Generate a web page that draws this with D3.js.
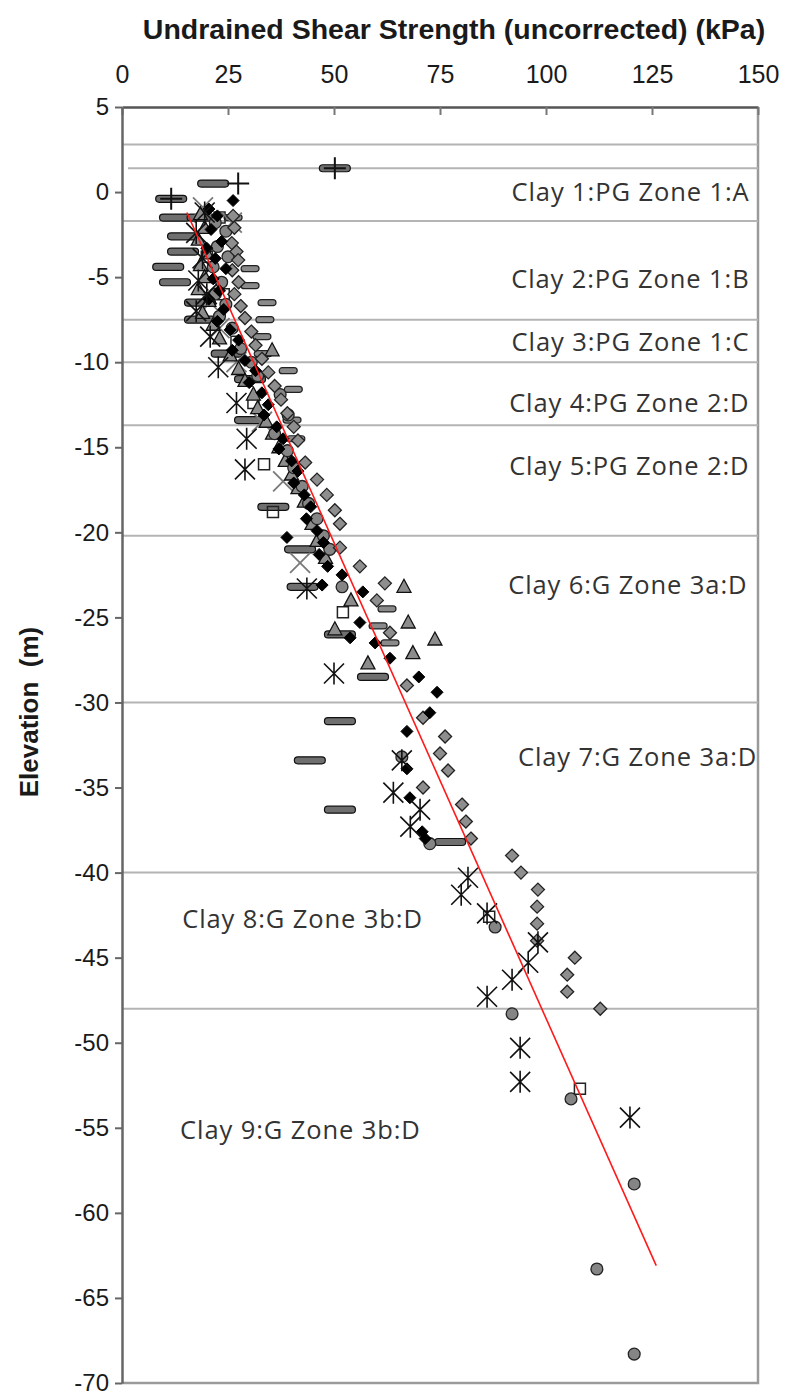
<!DOCTYPE html>
<html>
<head>
<meta charset="utf-8">
<script src="https://cdn.jsdelivr.net/npm/d3@7"></script>
<style>
  body { margin: 0; background: #fff; }
  text { font-family: "Liberation Sans", Arial, sans-serif; fill: #1a1a1a; }
  .zone { font-family: "Open Sans", sans-serif; fill: #333; }
</style>
</head>
<body>
<svg id="chart" width="787" height="1395"></svg>
<script>
// ---- axes ----
const xTicks = [0, 25, 50, 75, 100, 125, 150];
const yTicks = [5, 0, -5, -10, -15, -20, -25, -30, -35, -40, -45, -50, -55, -60, -65, -70];

// ---- stratigraphy: layer boundaries (m) and labels ----
const zoneBoundaries = [2.8, 1.4, -1.7, -7.5, -10, -13.7, -20.2, -30, -40, -48];
const zoneNames = [
  "Clay 1:PG Zone 1:A", "Clay 2:PG Zone 1:B", "Clay 3:PG Zone 1:C",
  "Clay 4:PG Zone 2:D", "Clay 5:PG Zone 2:D", "Clay 6:G Zone 3a:D",
  "Clay 7:G Zone 3a:D", "Clay 8:G Zone 3b:D", "Clay 9:G Zone 3b:D"
];
const zoneLabelElev = [0, -5.1, -8.8, -12.4, -16.1, -23.1, -33.2, -42.7, -55.1];
const zoneLabelKpa = [148, 148, 148, 148, 148, 147.5, 149.8, 14.2, 13.7];
const zoneLabelAlign = ["end", "end", "end", "end", "end", "end", "end", "start", "start"];

// ---- design line (kPa, elevation) ----
const trendKpa = [15.3, 126];
const trendElev = [-1.2, -63.1];

// ---- test results, [Su kPa, elevation m] ----
const longDash = [
  [11.6, -0.4], [21.5, 0.5], [50.2, 1.4], [12.5, -1.5], [19, -1.5], [14.4, -2.6], [14.4, -3.5],
  [10.9, -4.4], [12.5, -5.3], [18.4, -6.5], [18.4, -7.5], [24.7, -9.5], [30.2, -11],
  [30.2, -13.4], [35.7, -18.5], [42, -21], [42.6, -23.2], [51.4, -26.0], [59.2, -28.5],
  [51.4, -31.1], [44.3, -33.4], [51.4, -36.3], [77.4, -38.2]
];
const shortDash = [
  [26.2, -1.5], [30.2, -4.5], [30.2, -5.5], [34.2, -6.5], [33.7, -7.5], [33, -8.5], [33.3, -9.5],
  [39.2, -10.5], [40.4, -11.6], [40.1, -13.4], [41, -14.5], [62.5, -24.5], [60.4, -25.5], [63.2, -26.5]
];
const openSquare = [
  [23, -1.5], [20, -3.8], [24, -6.0], [27, -8.8], [31, -12.4], [33.5, -16.0], [35.6, -18.8],
  [52.1, -24.7], [86.6, -42.6], [108, -52.7]
];
const crossX = [
  [19.1, -0.9], [25.9, -1.8], [20.8, -6.5], [23, -8.0], [27, -10.0], [33, -13.5], [38, -17.0],
  [42, -21.8]
];
const triangle = [
  [18.5, -1.3], [19.5, -2.1], [18.0, -2.8], [20.0, -3.6], [18.5, -4.3], [19.5, -5.0], [18.0, -5.7],
  [20.5, -6.4], [19.0, -7.1], [21.5, -7.8], [23.0, -8.6], [35.4, -9.3], [25.5, -9.6], [27.5, -10.4],
  [29.0, -11.1], [31.0, -11.9], [32.0, -12.7], [34.0, -13.5], [35.5, -14.2], [37.0, -15.0],
  [38.5, -15.8], [40.0, -16.6], [41.5, -17.4], [43.0, -18.2], [44.8, -19.5], [46.0, -20.5],
  [48.0, -21.5], [54.0, -24.0], [50.2, -25.7], [66.5, -23.2], [67.5, -25.3], [73.8, -26.3],
  [68.6, -27.1], [58, -27.7]
];
const circle = [
  [22, -1.8], [24.5, -2.3], [22.5, -3.2], [25.0, -3.8], [21.5, -4.4], [23.5, -5.3], [22.0, -6.0],
  [24.5, -6.6], [23.0, -7.3], [26.0, -8.0], [28.0, -9.2], [30.5, -10.0], [32.0, -10.8],
  [37.3, -11.9], [39.2, -13.1], [36.0, -14.2], [39.0, -15.2], [40.5, -16.2], [42.5, -17.3],
  [44.0, -18.3], [46.0, -19.2], [47.5, -20.2], [49.0, -21.0], [51.9, -23.2], [66, -33.2],
  [72.6, -38.3], [88, -43.2], [92, -48.3], [105.9, -53.3], [120.8, -58.3], [112, -63.3], [120.8, -68.3]
];
const grayDiamond = [
  [26.2, -1.4], [26.5, -2.1], [25.9, -3.0], [27.0, -3.5], [27.4, -4.0], [26.0, -4.6], [27.5, -5.3],
  [26.5, -6.0], [28.0, -6.7], [29.0, -7.4], [30.5, -8.2], [31.5, -9.0], [33.0, -9.8], [34.5, -10.6],
  [36.0, -11.4], [37.5, -12.2], [39.0, -13.0], [40.5, -13.8], [41.5, -14.6], [43.2, -15.9],
  [46, -16.9], [48.3, -17.8], [50.2, -18.7], [51.4, -19.5], [51.4, -20.9], [56.1, -22.0],
  [62, -23.0], [60.1, -24.0], [63.2, -25.9], [67.2, -29.0], [71, -30.9], [76.2, -32], [75, -33],
  [76.9, -34], [71, -35], [80.2, -36], [81.1, -37], [82.3, -38], [92, -39], [94.1, -40],
  [98.1, -41], [97.9, -42], [97.9, -43], [97.9, -44], [106.8, -45], [105, -46], [105, -47], [112.8, -48]
];
const blackDiamond = [
  [26.2, -0.5], [20.5, -1.0], [22.5, -1.4], [21.0, -2.2], [23.5, -2.9], [20.0, -3.3], [22.0, -3.9],
  [24.5, -4.5], [21.5, -5.1], [23.0, -5.8], [20.5, -6.3], [24.0, -6.9], [22.5, -7.6], [25.5, -8.1],
  [27.5, -8.7], [26.0, -9.3], [29.0, -9.9], [31.5, -10.5], [30.0, -11.2], [33.0, -11.8],
  [34.5, -12.5], [33.5, -13.1], [36.5, -13.8], [38.0, -14.5], [37.0, -15.1], [40.0, -15.8],
  [41.5, -16.4], [40.5, -17.1], [43.0, -17.8], [44.5, -18.5], [43.5, -19.2], [46.0, -19.9],
  [38.9, -20.3], [47.5, -20.6], [46.5, -21.3], [48.5, -22.0], [51.9, -22.5], [47.2, -23.1],
  [56.8, -23.5], [56.1, -25.3], [53.8, -26.2], [59.7, -26.5], [63.2, -27.4], [70, -28.5],
  [74.3, -29.4], [72.6, -30.6], [67.2, -31.7], [67.2, -33.9], [67.9, -35.6], [70.8, -37.6], [71.5, -38]
];
const asterisk = [
  [19.5, -1.2], [17.5, -2.4], [19.0, -3.9], [18.0, -5.2], [20.0, -6.0], [17.5, -7.0], [20.8, -8.5],
  [22.7, -10.3], [27, -12.4], [29.4, -14.5], [29, -16.3], [43.6, -23.3], [50, -28.3], [66, -33.4],
  [64, -35.3], [70.3, -36.3], [68, -37.3], [81.6, -40.3], [80, -41.3], [86.1, -42.4], [98.1, -44.1],
  [95.8, -45.3], [92, -46.3], [86.1, -47.3], [93.9, -50.3], [93.9, -52.3], [119.8, -54.4]
];
const plusMark = [[11.6, -0.4], [27.4, 0.5], [50.2, 1.4]];

// ---- layout ----
const svg = d3.select("#chart");
const plot = { left: 122, right: 758, top: 107, bottom: 1383 };
const x = d3.scaleLinear().domain([0, 150]).range([plot.left, plot.right]);
const y = d3.scaleLinear().domain([5, -70]).range([plot.top, plot.bottom]);

// plot-area frame (right and bottom edges)
svg.append("path")
  .attr("d", `M${plot.right},${plot.top} V${plot.bottom} H${plot.left}`)
  .attr("fill", "none").attr("stroke", "#9a9a9a").attr("stroke-width", 2.5);

// layer boundaries
svg.append("g").selectAll("line").data(zoneBoundaries).join("line")
  .attr("x1", (d, i) => i === 1 ? plot.left + 6 : plot.left).attr("x2", plot.right)
  .attr("y1", d => y(d)).attr("y2", d => y(d))
  .attr("stroke", "#b4b4b4").attr("stroke-width", 2);

// layer labels
svg.append("g").selectAll("text").data(zoneNames).join("text")
  .attr("class", "zone")
  .attr("x", (d, i) => x(zoneLabelKpa[i]))
  .attr("y", (d, i) => y(zoneLabelElev[i]))
  .attr("dy", "0.36em")
  .attr("text-anchor", (d, i) => zoneLabelAlign[i])
  .attr("font-size", 25.5)
  .attr("letter-spacing", 0.9)
  .text(d => d);

// top axis
const gx = svg.append("g").attr("transform", `translate(0,${plot.top})`)
  .call(d3.axisTop(x).tickValues(xTicks).tickSizeInner(-8).tickSizeOuter(0).tickPadding(24));
gx.select(".domain").attr("stroke", "#555").attr("stroke-width", 2.5);
gx.selectAll(".tick line").attr("stroke", "#777").attr("stroke-width", 2);
gx.selectAll(".tick text").attr("font-size", 25).attr("fill", "#222")
  .attr("font-family", "Liberation Sans, Arial, sans-serif");

// left axis
const gy = svg.append("g").attr("transform", `translate(${plot.left},0)`)
  .call(d3.axisLeft(y).tickValues(yTicks).tickSizeInner(7).tickSizeOuter(0).tickPadding(6));
gy.select(".domain").attr("stroke", "#666").attr("stroke-width", 2.5);
gy.selectAll(".tick line").attr("stroke", "#666").attr("stroke-width", 2);
gy.selectAll(".tick text").attr("font-size", 24).attr("fill", "#222")
  .attr("font-family", "Liberation Sans, Arial, sans-serif")
  .text(d => d < 0 ? "-" + Math.abs(d) : d);

// titles
svg.append("text")
  .attr("x", 454).attr("y", 39)
  .attr("text-anchor", "middle").attr("font-weight", "bold").attr("font-size", 28.5)
  .text("Undrained Shear Strength (uncorrected) (kPa)");
svg.append("text")
  .attr("transform", `translate(38,712) rotate(-90)`)
  .attr("text-anchor", "middle").attr("font-weight", "bold").attr("font-size", 26)
  .text("Elevation\u00a0\u00a0(m)");

// ---- marker shapes ----
const markers = {
  longDash: { d: () => "M-12,-3.5 h24 a2,2 0 0 1 0,7 h-24 a2,2 0 0 1 0,-7 Z", fill: "#6f6f6f", stroke: "#111", sw: 1.2 },
  shortDash: { d: () => "M-6,-3 h12 a2,2 0 0 1 0,6 h-12 a2,2 0 0 1 0,-6 Z", fill: "#8a8a8a", stroke: "#222", sw: 1.2 },
  openSquare: { d: () => "M-5.5,-5.5 h11 v11 h-11 Z", fill: "none", stroke: "#222", sw: 1.5 },
  crossX: { d: () => "M-10,-10 L10,10 M-10,10 L10,-10", fill: "none", stroke: "#7a7a7a", sw: 1.8 },
  triangle: { d: () => "M0,-7.5 L7,5.5 L-7,5.5 Z", fill: "#8c8c8c", stroke: "#111", sw: 1.3 },
  circle: { d: () => d3.symbol(d3.symbolCircle, 110)(), fill: "#858585", stroke: "#222", sw: 1.3 },
  grayDiamond: { d: () => "M0,-6.5 L6.5,0 L0,6.5 L-6.5,0 Z", fill: "#8e8e8e", stroke: "#222", sw: 1.3 },
  blackDiamond: { d: () => "M0,-6 L6,0 L0,6 L-6,0 Z", fill: "#000", stroke: "#000", sw: 1 },
  asterisk: { d: () => "M0,-11 V11 M-10,-10 L10,10 M-10,10 L10,-10", fill: "none", stroke: "#111", sw: 1.6 },
  plusMark: { d: () => "M-11,0 H11 M0,-11 V11", fill: "none", stroke: "#111", sw: 2 }
};

const seriesList = [
  ["longDash", longDash], ["shortDash", shortDash], ["openSquare", openSquare],
  ["crossX", crossX], ["triangle", triangle], ["circle", circle],
  ["grayDiamond", grayDiamond], ["blackDiamond", blackDiamond],
  ["asterisk", asterisk], ["plusMark", plusMark]
];

seriesList.forEach(([name, pts]) => {
  const m = markers[name];
  svg.append("g").attr("class", "series-" + name)
    .selectAll("path").data(pts).join("path")
    .attr("transform", d => `translate(${x(d[0])},${y(d[1])})`)
    .attr("d", m.d())
    .attr("fill", m.fill).attr("stroke", m.stroke).attr("stroke-width", m.sw);
});

// design line
svg.append("path")
  .datum(d3.zip(trendKpa, trendElev))
  .attr("d", d3.line().x(d => x(d[0])).y(d => y(d[1])))
  .attr("fill", "none").attr("stroke", "#ff1a1a").attr("stroke-width", 1.6);
</script>
</body>
</html>
